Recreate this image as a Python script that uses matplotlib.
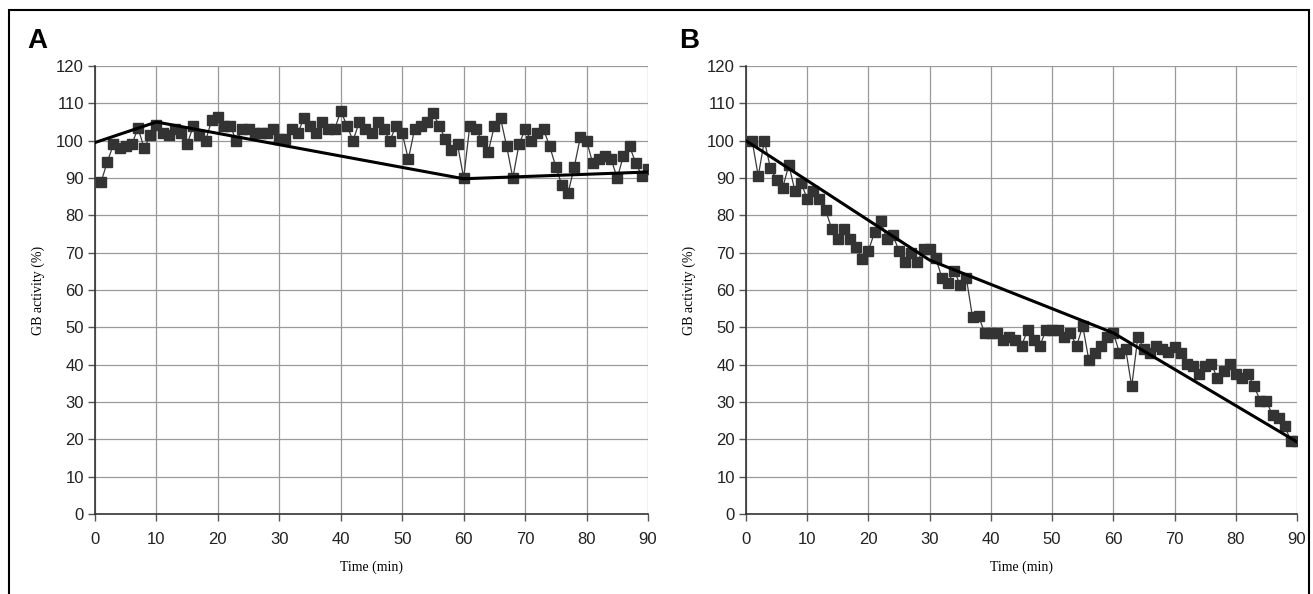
import matplotlib
matplotlib.use("Agg")
import matplotlib.pyplot as plt
from matplotlib.patches import Rectangle

# minutes sampled in both panels
minutes = list(range(1, 91))

# panel A: GB activity (%) per minute
activity_a = [89, 94.3, 99, 98, 98.5, 99, 103.4, 98, 101.4, 104.3,
              102, 101.4, 103, 102, 99, 104, 101.5, 100, 105.5, 106.4,
              104, 104, 100, 103, 103, 102, 102, 102, 103, 100.5,
              100.5, 103, 102, 106, 104, 102, 105, 103, 103, 108,
              104, 100, 105, 103, 102, 105, 103, 100, 104, 102,
              95, 103, 104, 105, 107.5, 104, 100.5, 97.5, 99, 90,
              104, 103, 100, 97, 104, 106, 98.5, 90, 99, 103,
              100, 102, 103, 98.5, 93, 88, 86, 93, 101, 100,
              94, 95, 96, 95, 90, 96, 98.5, 94, 90.6, 92.5]

# panel B: GB activity (%) per minute
activity_b = [100, 90.5, 100, 92.6, 89.5, 87.4, 93.5, 86.5, 88.6, 84.5,
              86.5, 84.5, 81.4, 76.4, 73.7, 76.4, 73.7, 71.4, 68.3, 70.5,
              75.5, 78.4, 73.7, 74.6, 70.5, 67.6, 70, 67.6, 71, 71,
              68.5, 63.3, 62, 65.2, 61.3, 63.1, 52.7, 53, 48.4, 48.4,
              48.4, 46.6, 47.3, 46.6, 45, 49.3, 46.6, 45, 49.3, 49.3,
              49.3, 47.5, 48.4, 45, 50.4, 41.2, 43.2, 45, 47.3, 48.5,
              43.2, 44.3, 34.2, 47.3, 44.3, 43, 45, 44.3, 43.4, 44.6,
              43.2, 40.3, 39.6, 37.4, 39.6, 40.3, 36.3, 38.3, 40.3, 37.6,
              36.5, 37.4, 34.2, 30.3, 30.3, 26.4, 25.8, 23.6, 19.5, 19.5]

# fitted piecewise lines
fit_a_x = [0, 10, 60, 90]
fit_a_y = [99.5, 105, 89.8, 91.6]
fit_b_x = [0, 30, 60, 90]
fit_b_y = [100, 68, 48.5, 19.3]

W, H = 1313, 594
fig = plt.figure(figsize=(W / 100, H / 100), dpi=100)

# outer frame (runs off the bottom edge, as in the original)
fig.patches.append(Rectangle((9 / W, -10 / H), (1309 - 9) / W, (594 - 10 + 10) / H,
                             transform=fig.transFigure, fill=False,
                             edgecolor="black", linewidth=1.5))

panels = [
    ("A", 95, 648, 27, activity_a, fit_a_x, fit_a_y),
    ("B", 746, 1297, 679, activity_b, fit_b_x, fit_b_y),
]

for letter, x0, x1, lx, vals, fx, fy in panels:
    ax = fig.add_axes([x0 / W, 1 - 514 / H, (x1 - x0) / W, 448 / H])
    ax.plot(minutes, vals, color="#3a3a3a", linewidth=0.9, marker="s",
            markersize=7.5, markerfacecolor="#333333",
            markeredgecolor="#333333", zorder=3)
    ax.plot(fx, fy, color="black", linewidth=2.2, zorder=4)
    ax.set_xlim(0, 90)
    ax.set_ylim(0, 120)
    ax.set_xticks(range(0, 91, 10))
    ax.set_yticks(range(0, 121, 10))
    ax.grid(True, color="#9a9a9a", linewidth=0.9)
    ax.set_axisbelow(True)
    for s in ("top", "right"):
        ax.spines[s].set_visible(False)
    for s in ("left", "bottom"):
        ax.spines[s].set_color("#333333")
        ax.spines[s].set_linewidth(1.2)
    ax.tick_params(axis="both", length=5, width=1, color="#555555",
                   labelsize=12, labelcolor="#222222")
    ax.tick_params(axis="x", pad=8)
    ax.tick_params(axis="y", pad=3)
    for t in ax.get_xticklabels() + ax.get_yticklabels():
        t.set_fontfamily("Liberation Sans")
    ax.set_xlabel("Time (min)", fontfamily="Liberation Serif", fontsize=10,
                  labelpad=10)
    ax.set_ylabel("GB activity (%)", fontfamily="Liberation Serif",
                  fontsize=10, labelpad=8)
    fig.text(lx / W, 1 - 48 / H, letter, fontfamily="Liberation Sans",
             fontweight="bold", fontsize=20)

fig.savefig("out.png", dpi=100)
